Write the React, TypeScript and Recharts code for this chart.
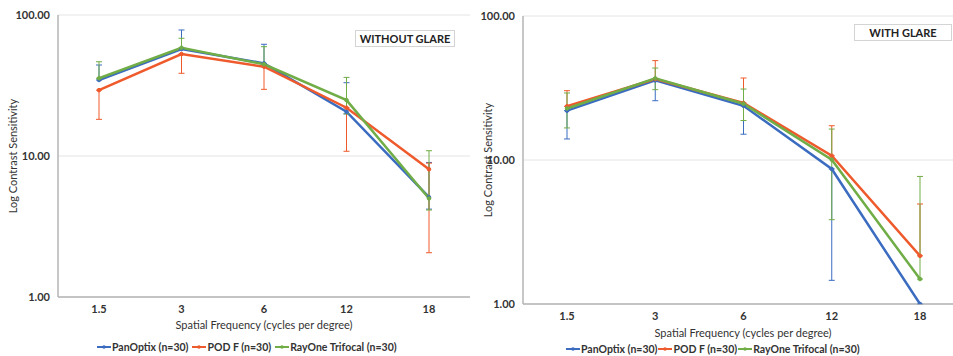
import React from 'react';
import { LineChart, Line, XAxis, YAxis, CartesianGrid, ErrorBar } from 'recharts';

const categories = ['1.5', '3', '6', '12', '18'];
const yTicks = [1, 10, 100];
const seriesNames = ['PanOptix (n=30)', 'POD F (n=30)', 'RayOne Trifocal (n=30)'];
const colors = ['#3B6CC0', '#EE5A2C', '#70AD47'];

// WITHOUT GLARE
const woPan = [34.6, 57.4, 45.4, 20.6, 5.1];
const woPanLow = [34.6, 57.4, 45.4, 19.9, 4.2];
const woPanHigh = [44.2, 78.3, 62.0, 33.1, 9.0];
const woPod = [29.3, 52.9, 43.0, 22.0, 8.05];
const woPodLow = [18.2, 38.6, 29.7, 10.8, 2.06];
const woPodHigh = [29.3, 52.9, 43.0, 22.0, 8.9];
const woRay = [35.6, 58.6, 44.7, 24.9, 5.0];
const woRayLow = [35.6, 58.6, 44.7, 19.9, 4.14];
const woRayHigh = [46.6, 68.4, 59.6, 36.1, 10.9];

// WITH GLARE
const wPan = [22.0, 35.7, 23.8, 8.66, 1.0];
const wPanLow = [14.0, 25.8, 15.1, 1.46, 1.0];
const wPanHigh = [22.0, 35.7, 23.8, 8.66, 1.0];
const wPod = [23.6, 36.5, 24.9, 10.7, 2.16];
const wPodLow = [23.6, 36.5, 24.9, 10.7, 2.16];
const wPodHigh = [30.3, 49.0, 37.1, 17.3, 4.95];
const wRay = [22.8, 36.9, 24.6, 10.05, 1.49];
const wRayLow = [16.7, 30.8, 18.8, 3.85, 1.49];
const wRayHigh = [29.2, 43.5, 31.1, 16.4, 7.69];

function build(v: number[][], lo: number[][], hi: number[][]) {
  return categories.map((c, i) => {
    const row: any = { freq: c };
    ['s0', 's1', 's2'].forEach((k, s) => {
      row[k] = v[s][i];
      row[k + 'e'] = [v[s][i] - lo[s][i], hi[s][i] - v[s][i]];
    });
    return row;
  });
}

const dataWithout = build([woPan, woPod, woRay], [woPanLow, woPodLow, woRayLow], [woPanHigh, woPodHigh, woRayHigh]);
const dataWith = build([wPan, wPod, wRay], [wPanLow, wPodLow, wRayLow], [wPanHigh, wPodHigh, wRayHigh]);

const FONT = 'Lato, "Open Sans", sans-serif';
const axisColor = '#b4b4b4';
const tickStyle = { fontSize: 11, fill: '#333', fontWeight: 700, fontFamily: FONT };

function Panel(props: { data: any[]; width: number; margin: any; yWidth: number; pad: number }) {
  const { data, width, margin, yWidth, pad } = props;
  return (
    <LineChart width={width} height={356} data={data} margin={margin}>
      <CartesianGrid horizontal vertical={false} stroke="#e4e4e4" strokeWidth={1} />
      <XAxis
        dataKey="freq"
        padding={{ left: pad, right: pad }}
        tickLine={false}
        axisLine={{ stroke: axisColor, strokeWidth: 1.5 }}
        tick={tickStyle}
        height={20}
        tickSize={6}
        tickMargin={2}
      />
      <XAxis xAxisId="top" orientation="top" dataKey="freq" height={0} tick={false} tickLine={false}
        axisLine={{ stroke: axisColor, strokeWidth: 1.5 }} />
      <YAxis
        scale="log"
        domain={[1, 100]}
        ticks={yTicks}
        allowDataOverflow
        width={yWidth}
        tickLine={false}
        axisLine={{ stroke: axisColor, strokeWidth: 1.5 }}
        tick={tickStyle}
        tickFormatter={(v: number) => v.toFixed(2)}
        tickSize={6}
        tickMargin={2}
      />
      <YAxis yAxisId="r" orientation="right" width={0} domain={[0, 1]} type="number" tick={false}
        tickLine={false} axisLine={{ stroke: axisColor, strokeWidth: 1.5 }} />
      {['s0', 's1', 's2'].map((k, s) => (
        <Line
          key={k}
          dataKey={k}
          stroke={colors[s]}
          strokeWidth={2.5}
          dot={{ r: 1.8, fill: colors[s], stroke: colors[s], strokeWidth: 1 }}
          activeDot={false}
          isAnimationActive={false}
        >
          <ErrorBar dataKey={k + 'e'} width={3} strokeWidth={1} stroke={colors[s]} direction="y" isAnimationActive={false} />
        </Line>
      ))}
    </LineChart>
  );
}

function LegendRow(props: { left: number; top: number; gap: number }) {
  return (
    <div style={{ position: 'absolute', left: props.left, top: props.top, display: 'flex', alignItems: 'center', fontFamily: FONT, fontSize: 10.5, fontWeight: 700, color: '#333', whiteSpace: 'nowrap' }}>
      {seriesNames.map((n, i) => (
        <div key={n} style={{ display: 'flex', alignItems: 'center', marginRight: props.gap }}>
          <svg width={14} height={6} style={{ marginRight: 1 }}>
            <line x1={0} y1={3} x2={14} y2={3} stroke={colors[i]} strokeWidth={2} />
            <circle cx={7} cy={3} r={1.8} fill={colors[i]} />
          </svg>
          <span>{n}</span>
        </div>
      ))}
    </div>
  );
}

const yTitle: React.CSSProperties = {
  position: 'absolute', fontFamily: FONT, fontSize: 11, color: '#333', whiteSpace: 'nowrap',
  transform: 'translate(-50%, -50%) rotate(-90deg)',
};
const xTitle: React.CSSProperties = {
  position: 'absolute', fontFamily: FONT, fontSize: 11, color: '#333', whiteSpace: 'nowrap',
  transform: 'translate(-50%, -50%)',
};
const boxStyle: React.CSSProperties = {
  position: 'absolute', border: '1px solid #d4d4d4', fontFamily: FONT, fontSize: 11, fontWeight: 700,
  color: '#222', display: 'flex', alignItems: 'center', justifyContent: 'center', background: '#fff', boxSizing: 'border-box',
};

export default function App() {
  return (
    <div style={{ position: 'absolute', left: 0, top: 0, width: 953, height: 356, overflow: 'hidden', background: '#fff' }}>
      <div style={{ position: 'absolute', left: 0, top: 0 }}>
        <Panel data={dataWithout} width={480} margin={{ top: 15, right: 10, left: 0, bottom: 39 }} yWidth={58} pad={41} />
      </div>
      <div style={{ position: 'absolute', left: 480, top: 0 }}>
        <Panel data={dataWith} width={500} margin={{ top: 16, right: 16, left: 0, bottom: 32 }} yWidth={43} pad={44} />
      </div>
      <div style={{ ...yTitle, left: 12, top: 156 }}>Log Contrast Sensitivity</div>
      <div style={{ ...yTitle, left: 487, top: 160 }}>Log Contrast Sensitivity</div>
      <div style={{ ...xTitle, left: 264, top: 324 }}>Spatial Frequency (cycles per degree)</div>
      <div style={{ ...xTitle, left: 743, top: 332 }}>Spatial Frequency (cycles per degree)</div>
      <LegendRow left={97} top={341} gap={4} />
      <LegendRow left={566} top={343} gap={1} />
      <div style={{ ...boxStyle, left: 355, top: 30, width: 100, height: 17 }}>WITHOUT GLARE</div>
      <div style={{ ...boxStyle, left: 854, top: 24, width: 98, height: 17 }}>WITH GLARE</div>
    </div>
  );
}
